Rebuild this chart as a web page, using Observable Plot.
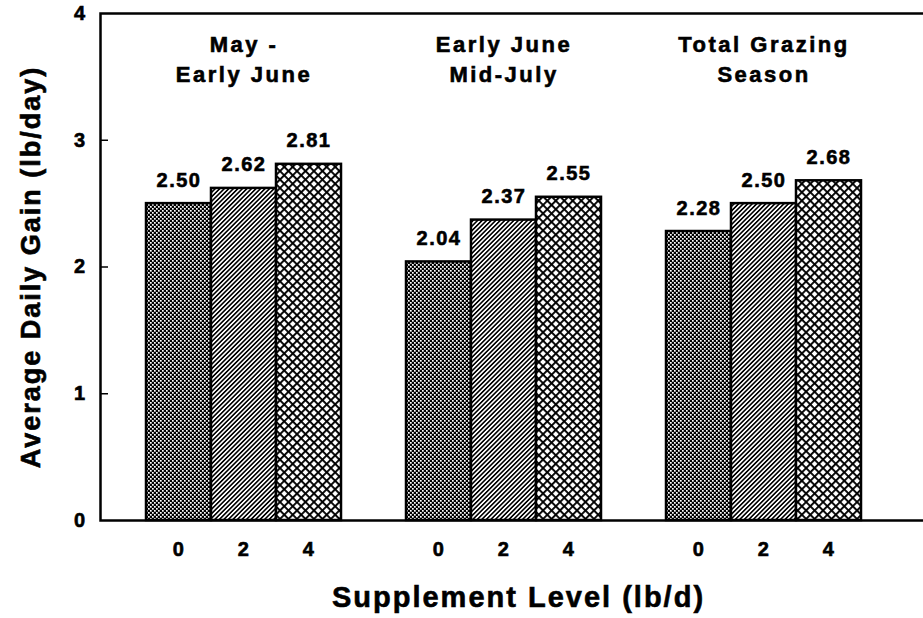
<!DOCTYPE html>
<html>
<head>
<meta charset="utf-8">
<script src="https://cdn.jsdelivr.net/npm/d3@7"></script>
<script src="https://cdn.jsdelivr.net/npm/@observablehq/plot@0.6"></script>
<style>
  html, body { margin: 0; padding: 0; background: #fff; }
  #chart { width: 923px; height: 618px; overflow: hidden; }
</style>
</head>
<body>
<div id="chart"></div>
<script>
// ---- data ----
const periods = ["A", "B", "C"];
const periodTitles = ["May -\nEarly June", "Early June\nMid-July", "Total Grazing\nSeason"];
const levels = ["0", "2", "4"];
const valuesMay = [2.50, 2.62, 2.81];
const valuesJune = [2.04, 2.37, 2.55];
const valuesTotal = [2.28, 2.50, 2.68];
const yTicks = [0, 1, 2, 3, 4];
const yTitle = "Average Daily Gain (lb/day)";
const xTitle = "Supplement Level (lb/d)";

const seriesByPeriod = [valuesMay, valuesJune, valuesTotal];
const rows = [];
periods.forEach((p, i) => levels.forEach((l, j) => rows.push({period: p, level: l, key: p + "|" + l, value: seriesByPeriod[i][j]})));
// band domain: bars with a spacer slot between groups
const xDomain = [];
periods.forEach((p, i) => {
  levels.forEach(l => xDomain.push(p + "|" + l));
  if (i < periods.length - 1) xDomain.push("gap" + i);
});
const barKeys = rows.map(d => d.key);
const titleRows = periods.map((p, i) => ({key: p + "|2", title: periodTitles[i]}));
const fills = {"0": "url(#pat0)", "2": "url(#pat1)", "4": "url(#pat2)"};

const font = "'Liberation Sans', Arial, Helvetica, sans-serif";

const plot = Plot.plot({
  width: 923,
  height: 618,
  marginLeft: 100,
  marginRight: -3,
  marginTop: 13,
  marginBottom: 98,
  style: {fontFamily: font, background: "#fff", color: "#000", overflow: "hidden"},
  x: {type: "band", domain: xDomain, paddingInner: 0, paddingOuter: 0.784, align: 0.417, axis: null},
  y: {domain: [0, 4], axis: null},
  marks: [
    ...levels.map(l => Plot.barY(rows.filter(d => d.level === l), {
      x: "key", y: "value", fill: fills[l], stroke: "#000", strokeWidth: 2.5
    })),
    Plot.frame({stroke: "#000", strokeWidth: 2.5}),
    Plot.axisY({ticks: [1, 2, 3], tickSize: 8, dx: 8, text: null, strokeWidth: 1.5, label: null}),
    Plot.axisY({ticks: yTicks, tickSize: 0, tickPadding: 14, fontSize: 20, fontWeight: "bold", label: null, tickFormat: d => String(d), className: "txt"}),
    Plot.axisX({ticks: barKeys, tickSize: 0, tickPadding: 21, fontSize: 20, fontWeight: "bold", label: null, tickFormat: k => k.split("|")[1], className: "txt"}),
    Plot.text(rows, {x: "key", y: "value", text: d => d.value.toFixed(2), dy: -17, lineAnchor: "bottom",
      fontSize: 20, fontWeight: "bold", className: "txt"}),
    Plot.text(titleRows, {x: "key", frameAnchor: "top", text: "title", dy: 17, lineAnchor: "top", lineHeight: 1.38,
      fontSize: 22, fontWeight: "bold", className: "ttl"}),
    Plot.text([yTitle], {frameAnchor: "left", text: d => d, rotate: -90, textAnchor: "middle", dx: -69, fontSize: 27, fontWeight: "bold", className: "big"}),
    Plot.text([xTitle], {frameAnchor: "bottom", text: d => d, textAnchor: "middle", dx: 5, dy: 86, fontSize: 29, fontWeight: "bold", className: "big"})
  ]
});

// heavier, wider lettering like the scanned original
plot.querySelectorAll("text").forEach(t => {
  t.setAttribute("stroke", "#000");
  t.setAttribute("stroke-width", "0.6");
  t.setAttribute("letter-spacing", "1.5");
});
plot.querySelectorAll(".ttl text").forEach(t => t.setAttribute("letter-spacing", "2.5"));
plot.querySelectorAll(".big text").forEach(t => t.setAttribute("letter-spacing", "2"));

// hatch patterns
const ns = "http://www.w3.org/2000/svg";
const defs = document.createElementNS(ns, "defs");
defs.innerHTML = `
  <pattern id="pat0" patternUnits="userSpaceOnUse" width="4" height="4">
    <rect width="4" height="4" fill="#000"/>
    <rect x="0" y="0" width="1.7" height="1.7" fill="#fff"/>
    <rect x="2" y="2" width="1.7" height="1.7" fill="#fff"/>
  </pattern>
  <pattern id="pat1" patternUnits="userSpaceOnUse" width="3.2" height="10" patternTransform="rotate(45)">
    <rect width="3.2" height="10" fill="#fff"/>
    <rect x="0" y="0" width="1.6" height="10" fill="#000"/>
  </pattern>
  <pattern id="pat2" patternUnits="userSpaceOnUse" width="6" height="6" patternTransform="rotate(45)">
    <rect width="6" height="6" fill="#fff"/>
    <rect x="0" y="0" width="1.9" height="6" fill="#000"/>
    <rect x="0" y="0" width="6" height="1.9" fill="#000"/>
  </pattern>`;
plot.insertBefore(defs, plot.firstChild);

document.getElementById("chart").appendChild(plot);
</script>
</body>
</html>
